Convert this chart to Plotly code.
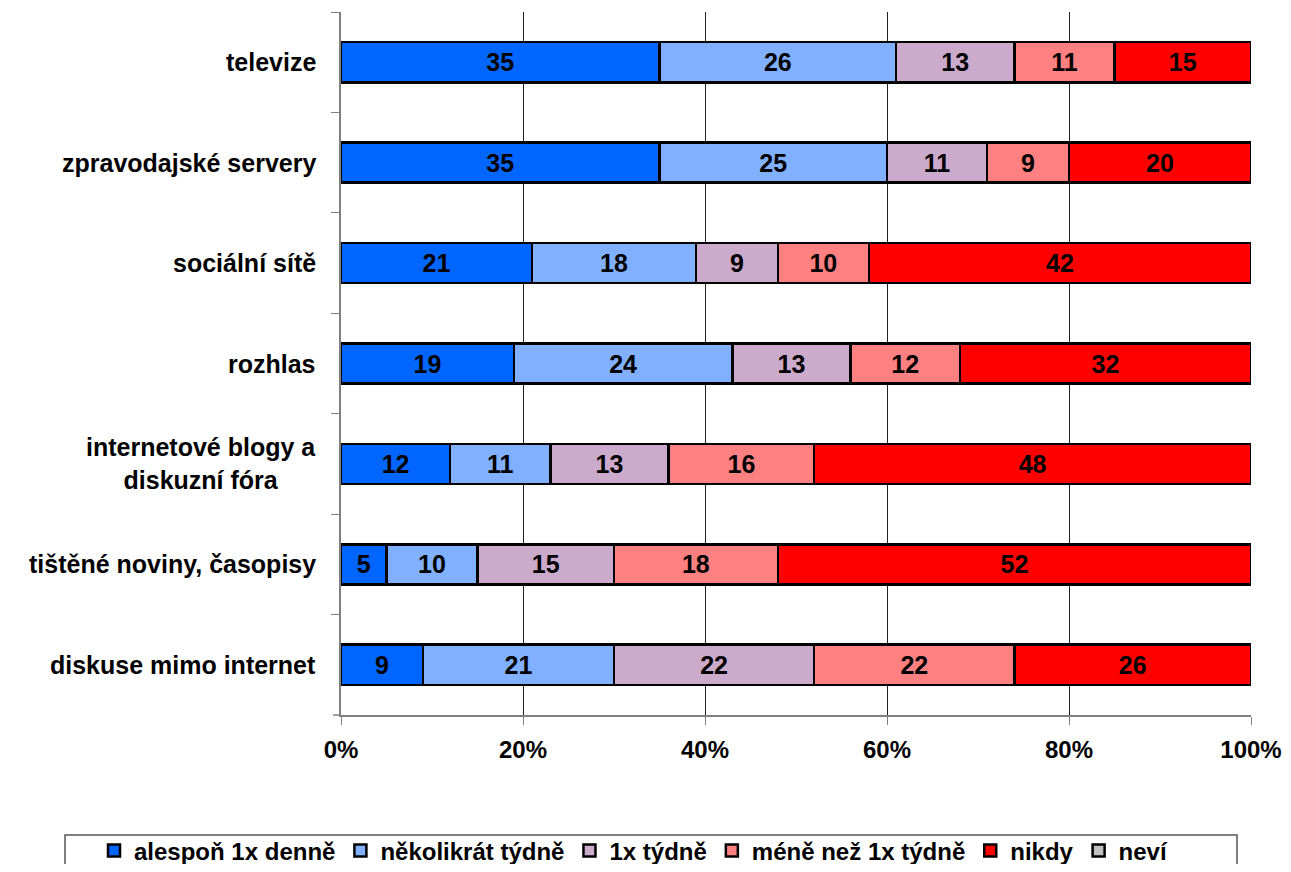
import plotly.graph_objects as go

categories = ["televize", "zpravodajské servery", "sociální sítě", "rozhlas",
              "internetové blogy a<br>diskuzní fóra", "tištěné noviny, časopisy",
              "diskuse mimo internet"]
series_names = ["alespoň 1x denně", "několikrát týdně", "1x týdně",
                "méně než 1x týdně", "nikdy", "neví"]
denne = [35, 35, 21, 19, 12, 5, 9]
nekolikrat = [26, 25, 18, 24, 11, 10, 21]
tydne = [13, 11, 9, 13, 13, 15, 22]
mene = [11, 9, 10, 12, 16, 18, 22]
nikdy = [15, 20, 42, 32, 48, 52, 26]
nevi = [0, 0, 0, 0, 0, 0, 0]
x_ticks = [0, 20, 40, 60, 80, 100]
x_ticktext = [f"{v}%" for v in x_ticks]

series_values = [denne, nekolikrat, tydne, mene, nikdy, nevi]
colors = ["#0066FF", "#80B0FF", "#CCAACC", "#FF8080", "#FF0000", "#C0C0C0"]

FONT = "Liberation Sans, Arial, sans-serif"
FS = 25
FIG_W, FIG_H = 1275, 856
# plot area in screen pixels (page has an 8px body margin)
SX0, SX1, SY0, SY1 = 341, 1251, 12, 715
PLOT_W = float(SX1 - SX0)
PLOT_H = float(SY1 - SY0)

fig = go.Figure()
for name, vals, col in zip(series_names, series_values, colors):
    fig.add_trace(go.Bar(
        y=categories, x=vals, name=name, orientation="h", legendgroup=name,
        marker=dict(color=col, line=dict(color="black", width=2.5)),
        text=[str(v) if v > 0 else "" for v in vals],
        textposition="inside", insidetextanchor="middle", textangle=0,
        constraintext="none",
        textfont=dict(family=FONT, size=FS, color="black", weight="bold"),
    ))

# category labels as annotations (multi-line centred)
lab_x = -23 / PLOT_W
for c in categories:
    fig.add_annotation(x=lab_x, xref="paper", y=c, yref="y", text=c,
                       showarrow=False, xanchor="right", yanchor="middle",
                       align="center",
                       font=dict(family=FONT, size=FS, color="black", weight="bold"))

fig.update_layout(
    width=FIG_W, height=FIG_H,
    barmode="stack", bargap=0.6,
    plot_bgcolor="white", paper_bgcolor="white",
    margin=dict(l=SX0 - 8, r=FIG_W - (SX1 - 8), t=SY0 - 8, b=FIG_H - (SY1 - 8),
                autoexpand=False),
    font=dict(family=FONT, size=FS, color="black", weight="bold"),
    showlegend=True,
    legend=dict(orientation="h", x=(94 - SX0) / PLOT_W, xanchor="left",
                y=-(851 - SY1) / PLOT_H, yanchor="middle",
                font=dict(family=FONT, size=24, weight="bold"),
                bgcolor="rgba(0,0,0,0)", itemwidth=30, traceorder="grouped",
                tracegroupgap=16),
    xaxis=dict(range=[0, 100], tickmode="array", tickvals=x_ticks,
               ticktext=x_ticktext, ticklabeloverflow="allow",
               showgrid=True, gridcolor="#222222", gridwidth=1,
               showline=True, linecolor="#808080", linewidth=1.5,
               ticks="outside", ticklen=8, tickcolor="#808080",
               ticklabelstandoff=4,
               tickfont=dict(family=FONT, size=24, weight="bold"),
               zeroline=False, fixedrange=True),
    yaxis=dict(categoryorder="array", categoryarray=categories,
               autorange="reversed", showticklabels=False,
               showline=True, linecolor="#808080", linewidth=1.5,
               ticks="outside", ticklen=8, tickcolor="#808080",
               tickson="boundaries", showgrid=False, zeroline=False),
)

# legend frame
fig.add_shape(type="rect", xref="paper", yref="paper",
              x0=(65 - SX0) / PLOT_W, x1=(1237 - SX0) / PLOT_W,
              y0=-0.26, y1=-(835 - SY1) / PLOT_H,
              line=dict(color="#555555", width=1.5), fillcolor="rgba(0,0,0,0)")
# x axis line extension to the left
fig.add_shape(type="line", xref="paper", yref="paper",
              x0=-8 / PLOT_W, x1=0, y0=0, y1=0,
              line=dict(color="#808080", width=1.5))

fig.write_html("out.html")
